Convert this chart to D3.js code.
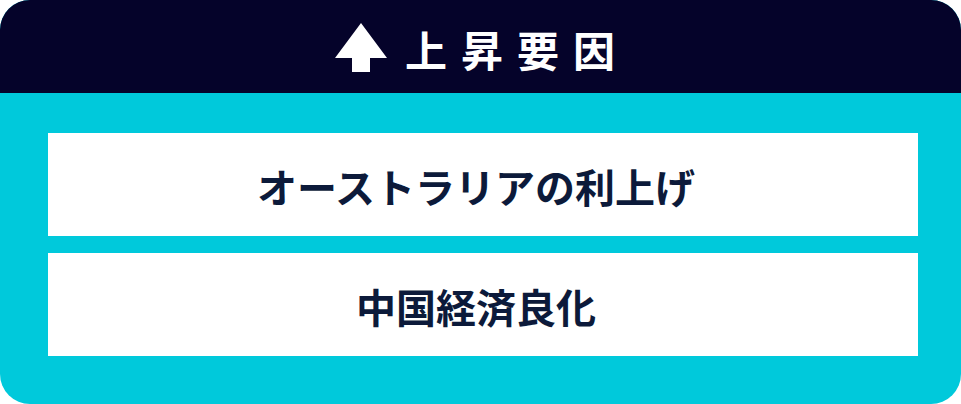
<!DOCTYPE html>
<html lang="ja">
<head>
<meta charset="utf-8">
<script src="https://cdn.jsdelivr.net/npm/d3@7/dist/d3.min.js"></script>
<style>
  html, body { margin: 0; padding: 0; background: #fff; }
  svg { display: block; }
</style>
</head>
<body>
<svg id="chart"></svg>
<script>
// content
const title = "上昇要因";
const factors = ["オーストラリアの利上げ", "中国経済良化"];

const width = 961;
const height = 404;
const headerH = 93;
const radius = 30;
const navy = "#05032a";
const cyan = "#00c9db";
const ink = "#0c1a3a";
const cx = 476;

const svg = d3.select("#chart").attr("width", width).attr("height", height);

svg.append("clipPath").attr("id", "frame")
  .append("rect")
  .attr("width", width).attr("height", height)
  .attr("rx", radius).attr("ry", radius);

const g = svg.append("g").attr("clip-path", "url(#frame)");

g.append("rect").attr("width", width).attr("height", height).attr("fill", cyan);
g.append("rect").attr("width", width).attr("height", headerH).attr("fill", navy);

// header: arrow + title
g.append("path")
  .attr("fill", "#fff")
  .attr("d", "M335,58 L361,23 L387,58 L370,58 L370,72 L352,72 L352,58 Z");

g.append("text")
  .attr("x", 405)
  .attr("y", 48)
  .attr("dominant-baseline", "central")
  .attr("fill", "#fff")
  .attr("font-family", "'Noto Sans CJK JP', sans-serif")
  .attr("font-weight", 700)
  .attr("font-size", 42)
  .attr("letter-spacing", 14)
  .text(title);

// factor rows
const y = d3.scaleBand()
  .domain(factors)
  .range([133, 356])
  .paddingInner(17 / 120)
  .paddingOuter(0);

const x = d3.scaleLinear().domain([0, 1]).range([48, 918]);

const rows = g.selectAll("g.row")
  .data(factors)
  .join("g")
  .attr("class", "row")
  .attr("transform", (d) => `translate(0,${y(d)})`);

rows.append("rect")
  .attr("x", x(0))
  .attr("width", x(1) - x(0))
  .attr("height", y.bandwidth())
  .attr("fill", "#fff");

rows.append("text")
  .attr("x", cx)
  .attr("y", y.bandwidth() / 2 + 1)
  .attr("text-anchor", "middle")
  .attr("dominant-baseline", "central")
  .attr("fill", ink)
  .attr("font-family", "'Noto Sans CJK JP', sans-serif")
  .attr("font-weight", 700)
  .attr("font-size", 40)
  .text((d) => d);
</script>
</body>
</html>
